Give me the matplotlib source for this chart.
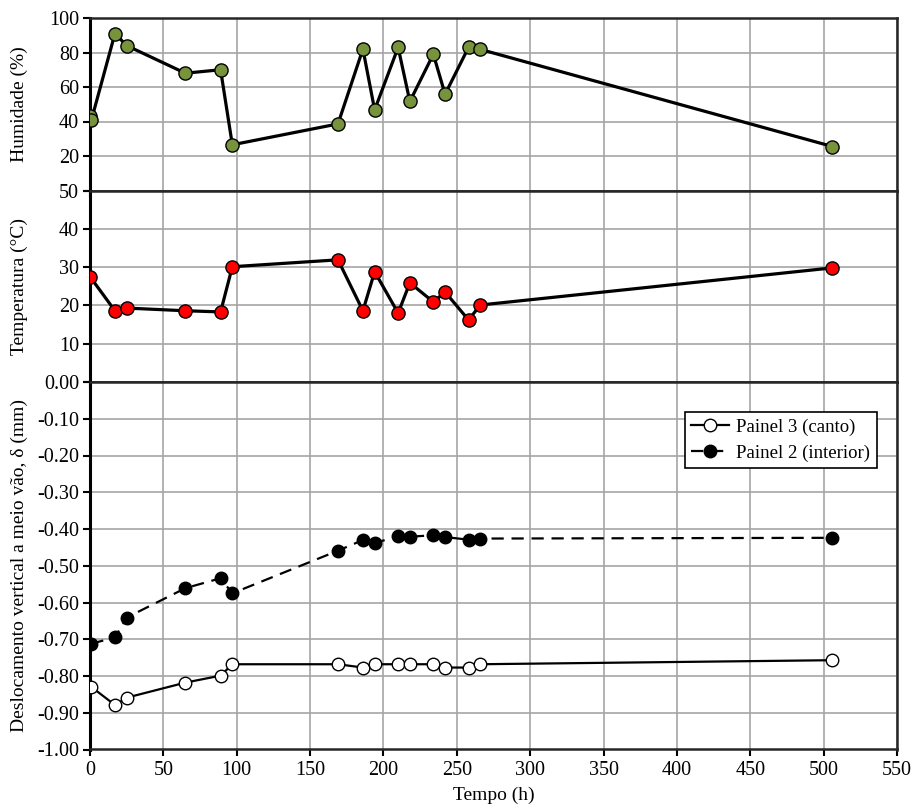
import matplotlib

matplotlib.use('Agg')
import matplotlib.pyplot as plt
from matplotlib.ticker import FormatStrFormatter, FuncFormatter, MultipleLocator

# tempos de leitura (h)
hours = [1, 17, 25, 65, 89, 97, 169, 186, 194, 210, 218, 234, 242, 258, 266, 506]

# humidade tem uma leitura extra no instante 0
hum_hours = [0] + hours
humidity = [43, 41, 91, 84, 68, 70, 26.5, 38.6, 82, 46.7, 83, 51.6, 79, 55.8, 83, 81.8, 25.5]

temp_hours = [0] + hours[1:]
temperature = [27.5, 18.6, 19.3, 18.6, 18.3, 30.1, 31.9, 18.6, 28.8, 18.0, 25.9, 20.9, 23.5, 16.2, 20.1, 29.8]

painel3 = [-0.83, -0.879, -0.859, -0.818, -0.799, -0.768, -0.768, -0.777, -0.768,
           -0.768, -0.768, -0.768, -0.777, -0.777, -0.768, -0.757]
painel2 = [-0.712, -0.695, -0.641, -0.561, -0.534, -0.575, -0.459, -0.43, -0.438,
           -0.42, -0.421, -0.417, -0.422, -0.429, -0.426, -0.424]

plt.rcParams['font.family'] = ['Liberation Serif', 'DejaVu Serif']
plt.rcParams['font.size'] = 14

W, H = 914, 811
fig = plt.figure(figsize=(W / 100, H / 100), dpi=100)
gs = fig.add_gridspec(3, 1, height_ratios=[172.5, 191.5, 367.5], hspace=0,
                      left=90 / W, right=897 / W, top=1 - 18 / H, bottom=1 - 749.5 / H)
ax1 = fig.add_subplot(gs[0])
ax2 = fig.add_subplot(gs[1], sharex=ax1)
ax3 = fig.add_subplot(gs[2], sharex=ax1)

grid_kw = dict(color='#a6a6a6', linewidth=1.2)


def no_zero(v, pos):
    # the zero of the upper panels sits under the next panel's top label
    return '' if abs(v) < 1e-9 else f'{v:.0f}'


ax1.plot(hum_hours, humidity, color='black', linewidth=2.3, marker='o', markersize=9.5,
         markerfacecolor='#77933C', markeredgecolor='black', markeredgewidth=1, zorder=3)
ax1.set_ylim(0, 100)
ax1.yaxis.set_major_locator(MultipleLocator(20))
ax1.yaxis.set_major_formatter(FuncFormatter(no_zero))
ax1.set_ylabel('Humidade (%)')

ax2.plot(temp_hours, temperature, color='black', linewidth=2.3, marker='o', markersize=9.5,
         markerfacecolor='#FF0000', markeredgecolor='black', markeredgewidth=1, zorder=3)
ax2.set_ylim(0, 50)
ax2.yaxis.set_major_locator(MultipleLocator(10))
ax2.yaxis.set_major_formatter(FuncFormatter(no_zero))
ax2.set_ylabel('Temperatura (°C)')

ax3.plot(hours, painel3, color='black', linewidth=1.6, marker='o', markersize=9,
         markerfacecolor='white', markeredgecolor='black', markeredgewidth=1,
         label='Painel 3 (canto)', zorder=3)
ax3.plot(hours, painel2, color='black', linewidth=1.6, linestyle=(0, (5.5, 3.5)), marker='o',
         markersize=9, markerfacecolor='black', markeredgecolor='black',
         label='Painel 2 (interior)', zorder=3)
ax3.set_ylim(-1.0, 0.0)
ax3.yaxis.set_major_locator(MultipleLocator(0.1))
ax3.yaxis.set_major_formatter(FormatStrFormatter('%.2f'))
ax3.set_ylabel('Deslocamento vertical a meio vão, δ (mm)')
ax3.set_xlabel('Tempo (h)', labelpad=5)

ax3.set_xlim(0, 550)
ax3.xaxis.set_major_locator(MultipleLocator(50))

leg = ax3.legend(loc='upper right', bbox_to_anchor=(0.975, 0.918), borderaxespad=0,
                 frameon=True, fancybox=False, edgecolor='black', framealpha=1,
                 fontsize=13.5, handlelength=2.0, borderpad=0.35, labelspacing=0.45,
                 handletextpad=0.4)
leg.get_frame().set_linewidth(1.2)

for ax in (ax1, ax2, ax3):
    ax.grid(True, **grid_kw)
    ax.set_axisbelow(True)
    for side, sp in ax.spines.items():
        sp.set_color('#262626')
        sp.set_linewidth(1.8)
    ax.spines['left'].set_color('black')
    ax.spines['left'].set_linewidth(2.2)
    ax.tick_params(direction='out', length=5, width=1.5, color='black', pad=3,
                   labelsize=14.5)
    ax.yaxis.set_label_coords(-0.077, 0.5)

ax1.tick_params(axis='x', labelbottom=False)
ax2.tick_params(axis='x', labelbottom=False)

fig.savefig('out.png', dpi=100)
